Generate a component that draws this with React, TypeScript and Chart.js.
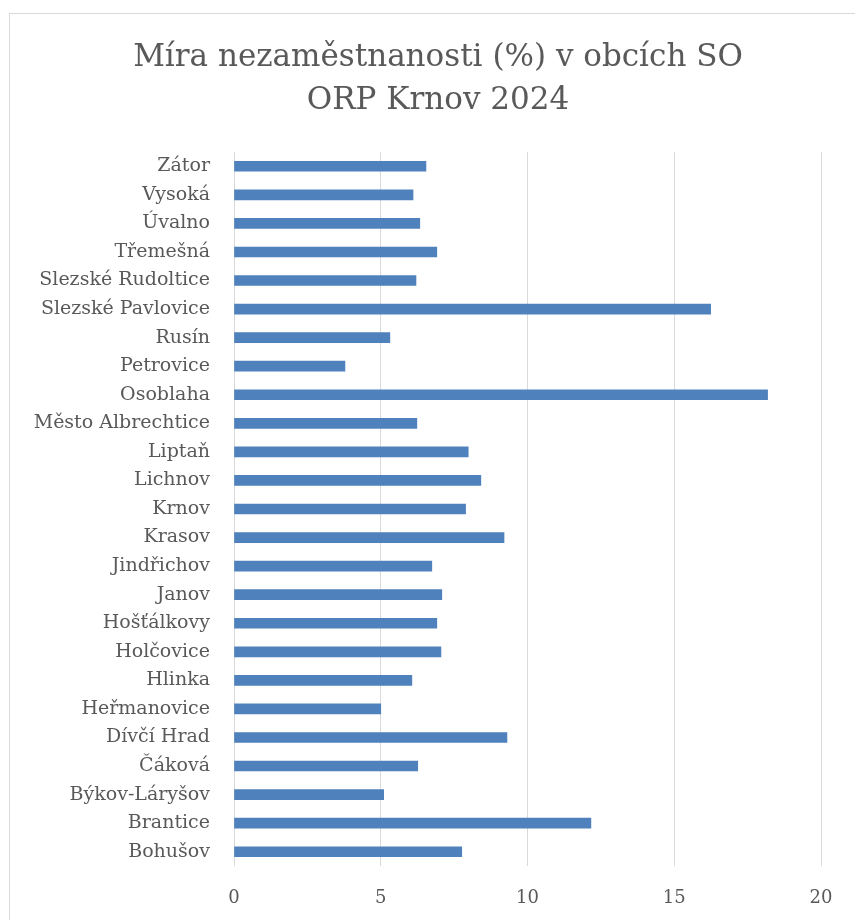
import React, { useEffect, useRef } from "react";
import { Chart, registerables } from "chart.js";

Chart.register(...registerables);

const titleLines = ["Míra nezaměstnanosti (%) v obcích SO", "ORP Krnov 2024"];

const municipalities = [
  "Zátor",
  "Vysoká",
  "Úvalno",
  "Třemešná",
  "Slezské Rudoltice",
  "Slezské Pavlovice",
  "Rusín",
  "Petrovice",
  "Osoblaha",
  "Město Albrechtice",
  "Liptaň",
  "Lichnov",
  "Krnov",
  "Krasov",
  "Jindřichov",
  "Janov",
  "Hošťálkovy",
  "Holčovice",
  "Hlinka",
  "Heřmanovice",
  "Dívčí Hrad",
  "Čáková",
  "Býkov-Láryšov",
  "Brantice",
  "Bohušov",
];

const unemploymentRate = [
  6.54, 6.1, 6.33, 6.91, 6.2, 16.24, 5.31, 3.78, 18.18, 6.23, 7.98, 8.41, 7.89,
  9.2, 6.74, 7.08, 6.91, 7.05, 6.06, 5.0, 9.3, 6.26, 5.1, 12.16, 7.76,
];

const xTicks = [0, 5, 10, 15, 20];

const FONT = "'DejaVu Serif', 'Liberation Serif', serif";
const TEXT = "#595959";

const titlePlugin = {
  id: "centeredTitle",
  afterDraw(chart: any) {
    const ctx = chart.ctx;
    ctx.save();
    ctx.fillStyle = TEXT;
    ctx.font = `31px ${FONT}`;
    ctx.textAlign = "center";
    ctx.textBaseline = "middle";
    const cx = 438;
    titleLines.forEach((line, i) => {
      ctx.fillText(line, cx, 58 + i * 43);
    });
    ctx.restore();
  },
};

export default function App() {
  const ref = useRef<HTMLCanvasElement | null>(null);

  useEffect(() => {
    if (!ref.current) return;
    const chart = new Chart(ref.current, {
      type: "bar",
      data: {
        labels: municipalities,
        datasets: [
          {
            data: unemploymentRate,
            backgroundColor: "#4f81bd",
            borderWidth: 0,
            barThickness: 10,
          },
        ],
      },
      options: {
        indexAxis: "y",
        responsive: false,
        animation: false,
        maintainAspectRatio: false,
        layout: { padding: { left: 0, right: 34, top: 152, bottom: 0 } },
        plugins: {
          legend: { display: false },
          tooltip: { enabled: false },
          title: { display: false },
        },
        scales: {
          x: {
            min: 0,
            max: 20,
            afterBuildTicks: (scale: any) => {
              scale.ticks = xTicks.map((v) => ({ value: v }));
            },
            afterFit: (scale: any) => {
              scale.height = 54;
            },
            grid: { color: "#d9d9d9", lineWidth: 1, drawTicks: false },
            border: { display: false },
            ticks: {
              color: TEXT,
              padding: 22,
              font: { family: FONT, size: 18 },
            },
          },
          y: {
            afterFit: (scale: any) => {
              scale.width = 234;
            },
            grid: { display: false, drawTicks: false },
            border: { display: false },
            ticks: {
              color: TEXT,
              padding: 24,
              autoSkip: false,
              font: { family: FONT, size: 19 },
            },
          },
        },
      },
      plugins: [titlePlugin],
    });
    return () => chart.destroy();
  }, []);

  return (
    <div style={{ position: "absolute", left: 0, top: 0, width: 855, height: 920, background: "#fff", overflow: "hidden" }}>
      <div
        style={{
          position: "absolute",
          left: 9,
          top: 13,
          width: 900,
          height: 1000,
          border: "1px solid #d9d9d9",
          boxSizing: "border-box",
        }}
      />
      <canvas ref={ref} width={855} height={920} style={{ position: "absolute", left: 0, top: 0 }} />
    </div>
  );
}
